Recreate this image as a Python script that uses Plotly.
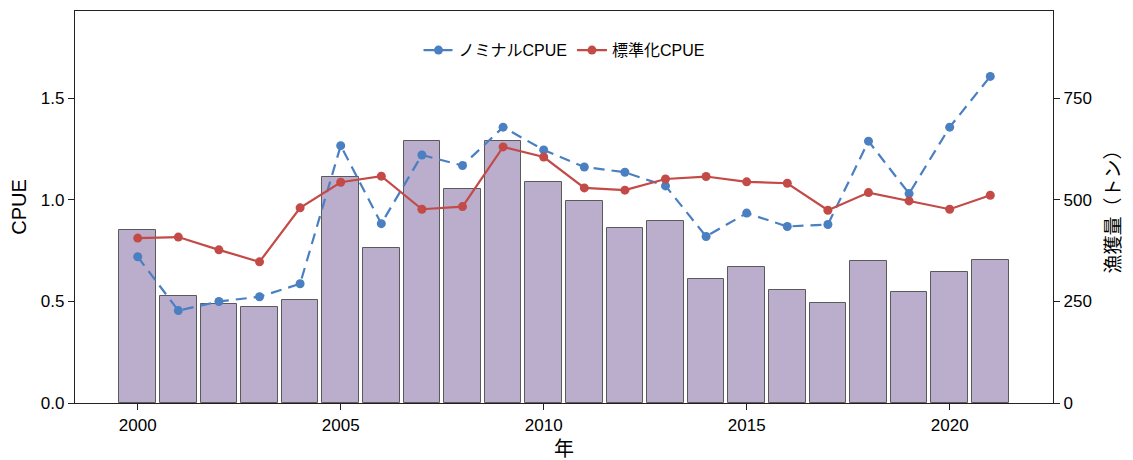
import plotly.graph_objects as go

years = list(range(2000, 2022))
catch_tons = [426, 263, 243, 237, 254, 556, 382, 645, 526, 645, 545, 497, 430, 447,
              305, 335, 278, 247, 349, 274, 322, 351]
nominal_cpue = [0.72, 0.455, 0.50, 0.523, 0.587, 1.267, 0.883, 1.221, 1.169, 1.358, 1.246,
                1.162, 1.136, 1.069, 0.82, 0.935, 0.869, 0.879, 1.289, 1.031, 1.358, 1.608]
std_cpue = [0.812, 0.817, 0.754, 0.695, 0.961, 1.087, 1.117, 0.954, 0.967, 1.261, 1.211,
            1.059, 1.048, 1.103, 1.115, 1.089, 1.082, 0.949, 1.036, 0.995, 0.954, 1.023]

cpue_ticks = [0, 0.5, 1.0, 1.5]
cpue_ticktext = ["0.0", "0.5", "1.0", "1.5"]
catch_ticks = [0, 250, 500, 750]
year_ticks = [2000, 2005, 2010, 2015, 2020]

FONT = "Liberation Sans, Arial, Noto Sans CJK JP, sans-serif"
AX = "#222222"

fig = go.Figure()
fig.add_trace(go.Bar(
    x=years, y=catch_tons, width=0.9, yaxis="y",
    marker=dict(color="#BBADCC", line=dict(color="#5a5a5a", width=1)),
    showlegend=False, name="漁獲量",
))
fig.add_trace(go.Scatter(
    x=years, y=nominal_cpue, yaxis="y2", mode="lines+markers", name="ノミナルCPUE",
    line=dict(color="#4A7FC1", width=2.2, dash="11px,7px"),
    marker=dict(color="#4A7FC1", size=9),
))
fig.add_trace(go.Scatter(
    x=years, y=std_cpue, yaxis="y2", mode="lines+markers", name="標準化CPUE",
    line=dict(color="#C34A47", width=2.2),
    marker=dict(color="#C34A47", size=9),
))

fig.update_layout(
    width=1125, height=452,
    margin=dict(l=67, r=80, t=3, b=57),
    plot_bgcolor="white", paper_bgcolor="white",
    font=dict(family=FONT, size=17, color="black"),
    bargap=0,
    xaxis=dict(
        range=[1998.455, 2022.545], tickvals=year_ticks, automargin=False,
        showline=True, linecolor=AX, linewidth=1.2, mirror=True,
        ticks="outside", ticklen=6, tickcolor=AX, showgrid=False, zeroline=False,
        title=dict(text="年", font=dict(size=20), standoff=9),
        tickfont=dict(size=17),
    ),
    yaxis=dict(
        side="right", range=[0, 965], tickvals=catch_ticks, automargin=False,
        showline=True, linecolor=AX, linewidth=1.2,
        ticks="outside", ticklen=6, tickcolor=AX, showgrid=False, zeroline=False,
        title=dict(text="漁獲量（トン）", font=dict(size=19), standoff=15),
        tickfont=dict(size=17),
    ),
    yaxis2=dict(
        side="left", overlaying="y", range=[0, 1.93], automargin=False,
        tickvals=cpue_ticks, ticktext=cpue_ticktext,
        showline=True, linecolor=AX, linewidth=1.2,
        ticks="outside", ticklen=6, tickcolor=AX, showgrid=False, zeroline=False,
        title=dict(text="CPUE", font=dict(size=20), standoff=10),
        tickfont=dict(size=17),
    ),
    legend=dict(
        orientation="h", x=0.5, xanchor="center", y=0.9, yanchor="middle",
        bgcolor="rgba(0,0,0,0)", font=dict(size=16), itemwidth=30,
    ),
)

fig.write_html("out.html")
